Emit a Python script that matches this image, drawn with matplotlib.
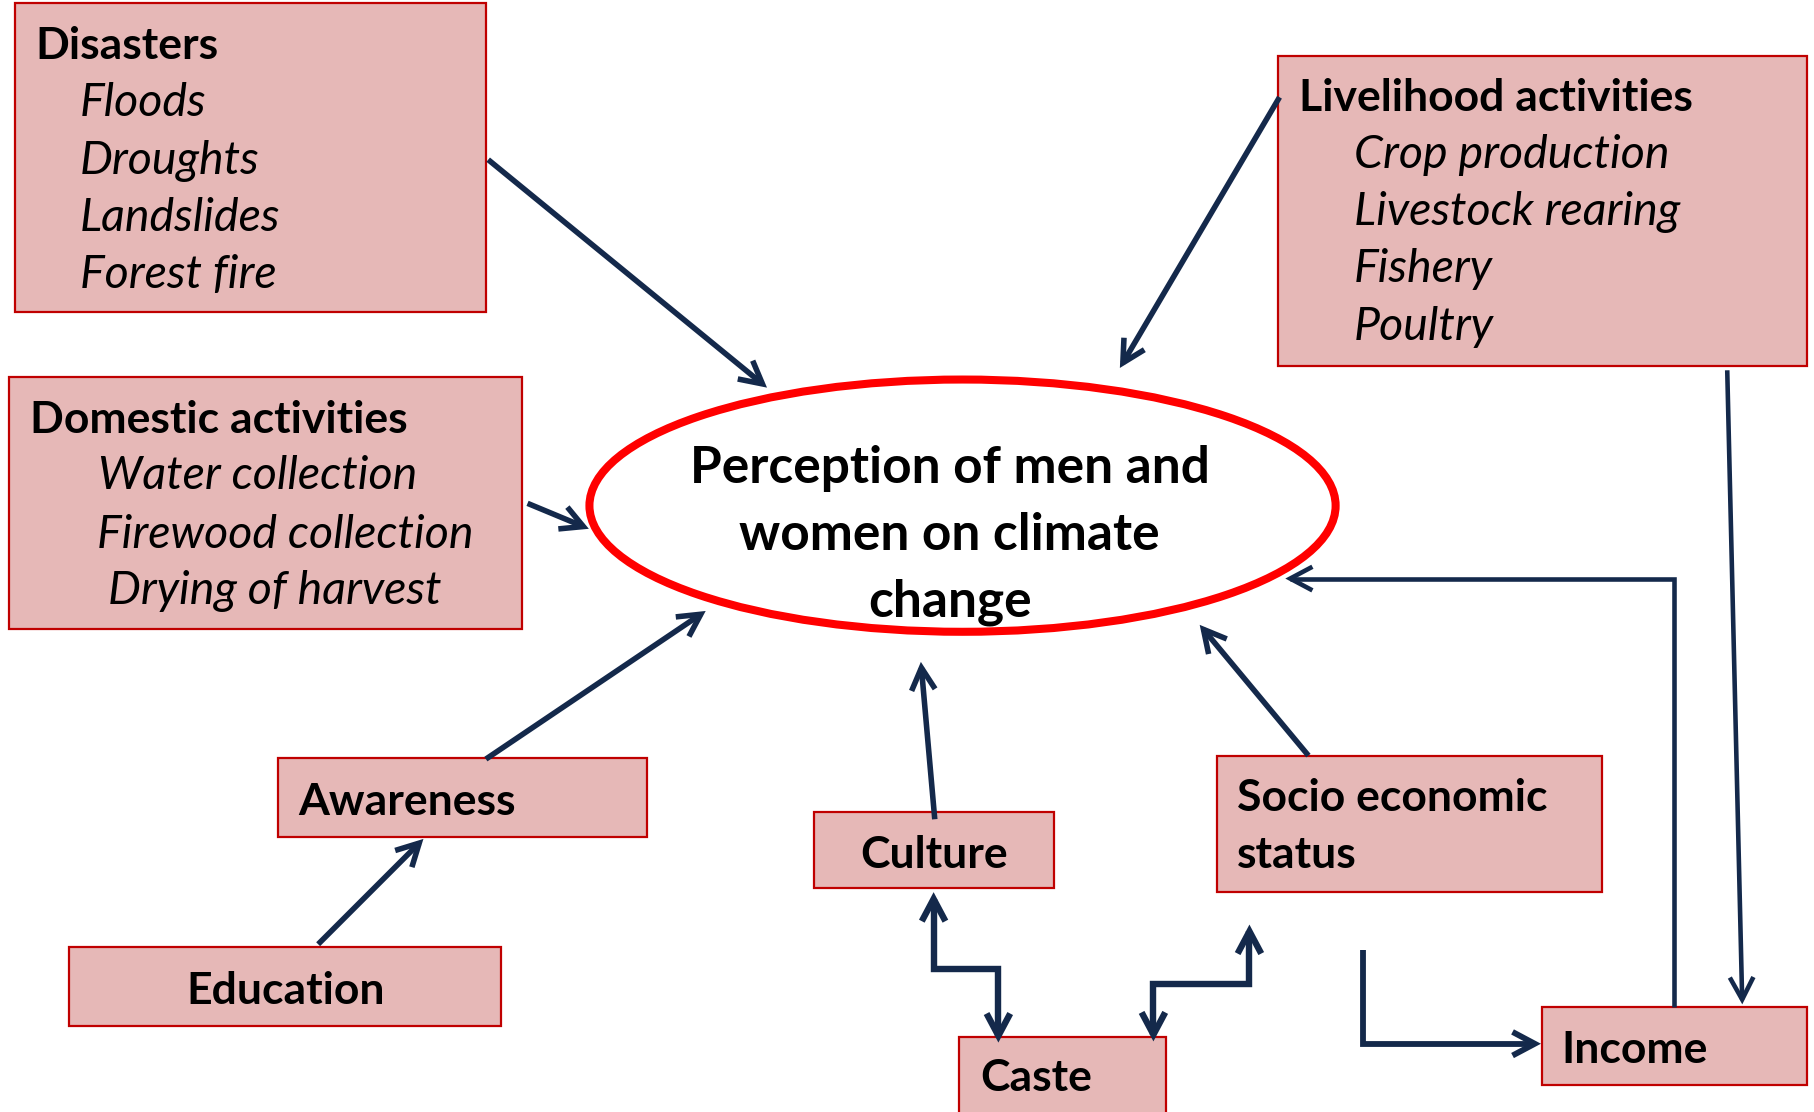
import matplotlib
matplotlib.use("agg")
import matplotlib.pyplot as plt
from matplotlib.patches import Rectangle, Ellipse, FancyArrowPatch
from matplotlib.path import Path

plt.rcParams["font.family"] = ["Lato", "DejaVu Sans"]

# text content
centre_lines = ["Perception of men and", "women on climate", "change"]
disaster_items = ["Floods", "Droughts", "Landslides", "Forest fire"]
livelihood_items = ["Crop production", "Livestock rearing", "Fishery", "Poultry"]
domestic_items = ["Water collection", "Firewood collection", "Drying of harvest"]
single_labels = ["Awareness", "Education", "Culture", "Caste", "Income"]
socio_lines = ["Socio economic", "status"]

# colours
BOX_FILL = "#E6B8B7"
BOX_EDGE = "#C00000"
ARROW = "#14294B"
RING = "#FF0000"

fig = plt.figure(figsize=(18.14, 11.12), dpi=100)
ax = fig.add_axes([0, 0, 1, 1])
ax.set_xlim(0, 1568)
ax.set_ylim(961, 0)
ax.axis("off")

FS = 32      # bold box text
FS_I = 33.5  # italic list items
FS_C = 37    # ellipse text


def box(x0, y0, x1, y1):
    ax.add_patch(Rectangle((x0, y0), x1 - x0, y1 - y0, facecolor=BOX_FILL,
                           edgecolor=BOX_EDGE, linewidth=1.6, zorder=1))


def label(x, y, s, ha="left", style="normal", weight="bold", size=FS):
    ax.text(x, y, s, ha=ha, va="baseline", fontsize=size, fontweight=weight,
            fontstyle=style, color="black", zorder=3)


def item(x, y, s):
    label(x, y, s, style="italic", weight="normal", size=FS_I)


def arrow(pts, style="->", lw=4.0):
    p = FancyArrowPatch(path=Path(pts), arrowstyle=style + ",head_length=16,head_width=8.5",
                        color=ARROW, linewidth=lw, joinstyle="miter",
                        capstyle="butt", zorder=2)
    ax.add_patch(p)


# list boxes
box(13, 3, 420, 270)
label(31, 51, "Disasters")
for i, s in enumerate(disaster_items):
    item(69, 100.5 + i * 49.5, s)

box(1105, 48, 1562, 316)
label(1123, 96, "Livelihood activities")
for i, s in enumerate(livelihood_items):
    item(1170, 145 + i * 49.5, s)

box(8, 326, 451, 544)
label(26, 374, "Domestic activities")
for x, y, s in zip([85, 84, 93], [423, 474, 522], domestic_items):
    item(x, y, s)

# single boxes
box(240, 655, 559, 723)
label(258, 704, single_labels[0])
box(60, 818, 433, 887)
label(247, 868, single_labels[1], ha="center")
box(704, 702, 911, 767)
label(807, 750, single_labels[2], ha="center")
box(829, 896, 1008, 990)
label(847, 943, single_labels[3])
box(1333, 870, 1562, 938)
label(1350, 919, single_labels[4])
box(1052, 653, 1385, 771)
for y, s in zip([701, 750], socio_lines):
    label(1069, y, s)

# central ellipse
ax.add_patch(Ellipse((832, 437), 645, 218, facecolor="white", edgecolor=RING,
                     linewidth=5.8, zorder=2))
for i, s in enumerate(centre_lines):
    label(821, 417.5 + i * 57.5, s, ha="center", size=FS_C)

# arrows
arrow([(422, 138), (663, 335)])
arrow([(1106, 84), (968, 318)])
arrow([(456, 435), (509, 457)])
arrow([(420, 656), (610, 528)])
arrow([(275, 816), (366, 725)])
arrow([(808, 708), (796, 572)])
arrow([(1131, 653), (1037, 540)])
arrow([(1447, 870), (1447, 500), (1111, 500)], lw=3.3)
arrow([(1493, 320), (1506, 868)], lw=3.3)
arrow([(807, 771), (807, 837), (863, 837), (863, 901)], style="<->", lw=4.6)
arrow([(997, 900), (997, 850), (1080, 850), (1080, 799)], style="<->", lw=4.6)
arrow([(1178, 821), (1178, 902), (1332, 902)], lw=4.2)

fig.savefig("out.png", dpi=100)
